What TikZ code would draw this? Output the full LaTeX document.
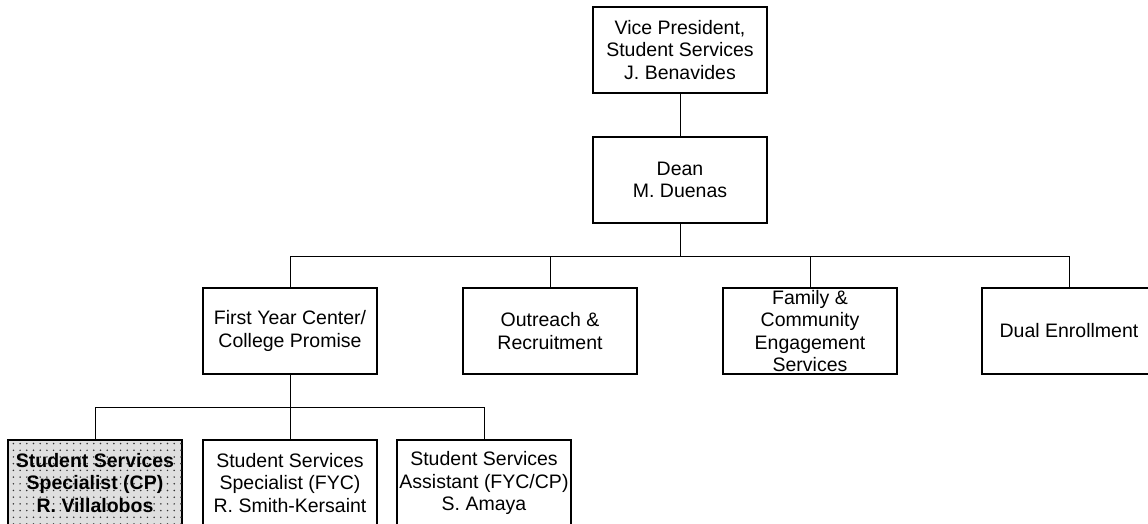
\documentclass[tikz,border=0pt]{standalone}
\usepackage{fontspec}
\setmainfont{Liberation Sans}
\usetikzlibrary{patterns.meta}

\begin{document}
\begin{tikzpicture}[x=1pt,y=-1pt]
			\tikzstyle{post} = [rectangle,fill=white,draw=black,line width=1.1pt,align=center,inner sep=0pt,font=\fontsize{19.5}{22.5}\selectfont]
			\tikzstyle{post2} = [rectangle,fill=gray!25,draw=black,line width=1.1pt,align=center,inner sep=0pt,font=\fontsize{19.5}{22.5}\selectfont\bfseries,postaction={pattern={Dots[distance=6.7pt,radius=0.85pt]},pattern color=black!80}]
			\tikzstyle{edge} = [-,line width=0.8pt]
			\useasboundingbox (0,0) rectangle (1148,524);
			\node[post,minimum width=174pt,minimum height=86pt] (vp) at (680,50) {Vice President,\\Student Services\\J. Benavides};
			\node[post,minimum width=174pt,minimum height=86pt] (dean) at (680,180) {Dean\\M. Duenas};
			\node[post,minimum width=174pt,minimum height=86pt] (fyc) at (290,331) {First Year Center/\\College Promise};
			\node[post,minimum width=174pt,minimum height=86pt] (outreach) at (550,331) {Outreach \&\\Recruitment};
			\node[post,minimum width=174pt,minimum height=86pt] (family) at (810,331) {Family \&\\Community\\Engagement\\Services};
			\node[post,minimum width=174pt,minimum height=86pt] (dual) at (1069,331) {Dual Enrollment};
			\node[post2,minimum width=174pt,minimum height=86pt] (ssscp) at (95,483) {Student Services\\Specialist (CP)\\R. Villalobos};
			\node[post,minimum width=174pt,minimum height=86pt] (sssfyc) at (290,483) {Student Services\\Specialist (FYC)\\R. Smith-Kersaint};
			\node[post,minimum width=174pt,minimum height=86pt] (ssa) at (484,483) {Student Services\\Assistant (FYC/CP)\\S. Amaya};
			\coordinate (bus1) at (680,256);
			\coordinate (bus2) at (290,407);
			\draw[edge] (vp)--(dean);
			\draw[edge] (dean)--(bus1);
			\draw[edge] (bus1)-|(fyc);
			\draw[edge] (bus1)-|(outreach);
			\draw[edge] (bus1)-|(family);
			\draw[edge] (bus1)-|(dual);
			\draw[edge] (fyc)--(bus2);
			\draw[edge] (bus2)-|(ssscp);
			\draw[edge] (bus2)-|(sssfyc);
			\draw[edge] (bus2)-|(ssa);
\end{tikzpicture}
\end{document}
